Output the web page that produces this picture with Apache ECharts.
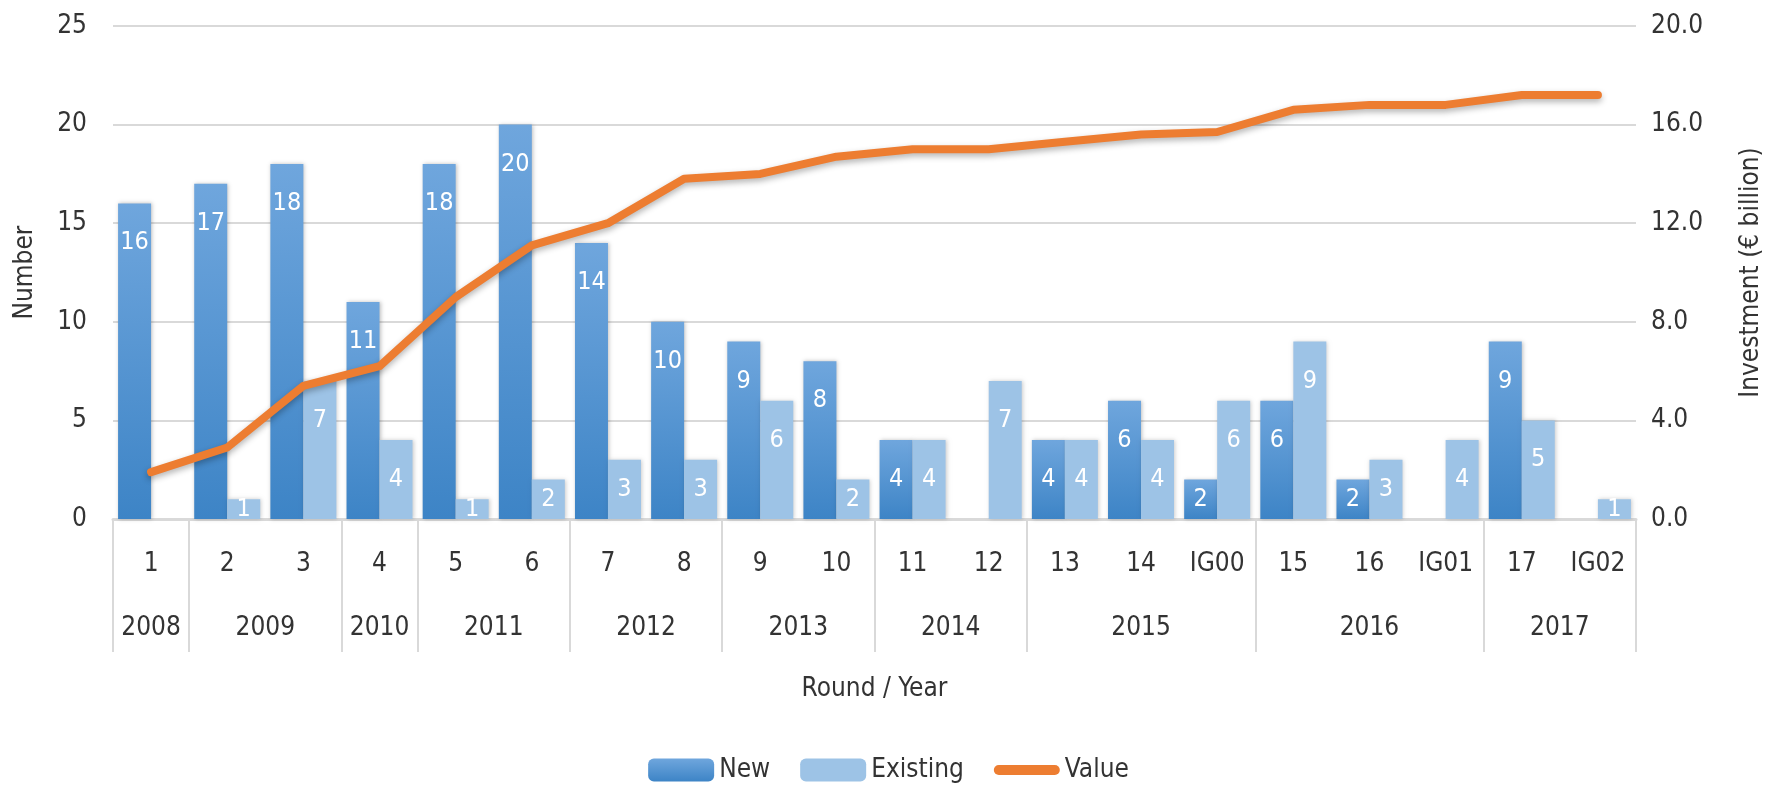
<!DOCTYPE html>
<html>
<head>
<meta charset="utf-8">
<title>Round / Year</title>
<script src="https://cdn.jsdelivr.net/npm/echarts@6/dist/echarts.min.js"></script>
<style>
  html, body { margin: 0; padding: 0; background: #fff; }
  #chart { width: 1777px; height: 792px; }
</style>
</head>
<body>
<div id="chart"></div>
<script>
// rounds on the first axis level
const rounds = ['1', '2', '3', '4', '5', '6', '7', '8', '9', '10',
  '11', '12', '13', '14', 'IG00', '15', '16', 'IG01', '17', 'IG02']
// years on the second level and how many rounds each one covers
const years = ['2008', '2009', '2010', '2011', '2012', '2013', '2014', '2015', '2016', '2017']
const yearSpans = [1, 2, 1, 2, 2, 2, 2, 3, 3, 2]

const newCounts = [16, 17, 18, 11, 18, 20, 14, 10, 9, 8, 4, null, 4, 6, 2, 6, 2, null, 9, null]
const existingCounts = [null, 1, 7, 4, 1, 2, 3, 3, 6, 2, 4, 7, 4, 4, 6, 9, 3, 4, 5, 1]
// investment, € billion (right axis)
const investment = [1.9, 2.9, 5.4, 6.2, 9.0, 11.1, 12.0, 13.8, 14.0, 14.7,
  15.0, 15.0, 15.3, 15.6, 15.7, 16.6, 16.8, 16.8, 17.2, 17.2]

const FONT = "'DejaVu Sans Condensed', 'Liberation Sans Narrow', sans-serif"
const TEXT = '#333'
const GRID_LINE = '#d9d9d9'
// thick rounded stroke for the line series in the legend
const LINE_ICON = 'path://M5,0 H61 A5,5 0 0 1 61,10 H5 A5,5 0 0 1 5,0 Z'

// year axis uses half-round slots: slot k sits at k/2 rounds from the left edge
const slotCount = rounds.length * 2 + 1
const slotLabels = new Array(slotCount).fill('')
const boundarySlots = new Set([0])
let start = 0
years.forEach((y, i) => {
  slotLabels[start * 2 + yearSpans[i]] = y
  start += yearSpans[i]
  boundarySlots.add(start * 2)
})
const slotIds = slotLabels.map((_, i) => String(i))

function barData(values) {
  return values.map(v => v == null ? null : {
    value: v,
    label: v >= 4 ? { position: 'insideTop', distance: 27 } : { position: 'inside' }
  })
}

const chart = echarts.init(document.getElementById('chart'))

chart.setOption({
  animation: false,
  textStyle: { fontFamily: FONT },
  grid: { left: 113, right: 141, top: 26, bottom: 273 },
  legend: {
    bottom: 4,
    left: 'center',
    itemWidth: 66,
    itemHeight: 23,
    itemGap: 30,
    textStyle: { fontSize: 26, color: TEXT, fontFamily: FONT },
    data: ['New', 'Existing', { name: 'Value', icon: LINE_ICON }]
  },
  xAxis: [
    {
      type: 'category',
      data: rounds,
      position: 'bottom',
      axisLine: { show: false },
      axisTick: { show: false },
      axisLabel: { color: TEXT, fontSize: 26, margin: 32, interval: 0, fontFamily: FONT }
    },
    {
      type: 'category',
      data: slotIds,
      boundaryGap: false,
      min: 0,
      max: slotCount - 1,
      position: 'bottom',
      name: 'Round / Year',
      nameLocation: 'middle',
      nameGap: 157,
      nameTextStyle: { color: TEXT, fontSize: 26, fontFamily: FONT },
      axisLine: { show: true, lineStyle: { color: GRID_LINE, width: 3 } },
      axisTick: {
        show: true,
        interval: (i) => boundarySlots.has(i),
        length: 133,
        lineStyle: { color: GRID_LINE, width: 2 }
      },
      axisLabel: {
        color: TEXT, fontSize: 26, margin: 96, interval: 0, fontFamily: FONT,
        formatter: (v, i) => slotLabels[i]
      },
      splitLine: { show: false }
    }
  ],
  yAxis: [
    {
      type: 'value',
      min: 0, max: 25, interval: 5,
      name: 'Number',
      nameLocation: 'middle',
      nameGap: 75,
      nameRotate: 90,
      nameTextStyle: { color: TEXT, fontSize: 26, fontFamily: FONT },
      axisLine: { show: false },
      axisTick: { show: false },
      axisLabel: { color: TEXT, fontSize: 26, margin: 26, fontFamily: FONT },
      splitLine: { lineStyle: { color: GRID_LINE, width: 2 } }
    },
    {
      type: 'value',
      min: 0, max: 20, interval: 4,
      position: 'right',
      name: 'Investment (€ billion)',
      nameLocation: 'middle',
      nameGap: 102,
      nameRotate: 90,
      nameTextStyle: { color: TEXT, fontSize: 26, fontFamily: FONT },
      axisLine: { show: false },
      axisTick: { show: false },
      axisLabel: { color: TEXT, fontSize: 26, margin: 15, fontFamily: FONT, formatter: v => v.toFixed(1) },
      splitLine: { show: false }
    }
  ],
  series: [
    {
      name: 'New',
      type: 'bar',
      xAxisIndex: 0,
      yAxisIndex: 0,
      data: barData(newCounts),
      barWidth: 33,
      barGap: '0%',
      itemStyle: {
        color: new echarts.graphic.LinearGradient(0, 0, 0, 1, [
          { offset: 0, color: '#6fa6dd' },
          { offset: 1, color: '#3d84c6' }
        ]),
        shadowColor: 'rgba(0,0,0,0.25)',
        shadowBlur: 4,
        shadowOffsetX: 1
      },
      label: { show: true, color: '#fff', fontSize: 25, fontFamily: FONT }
    },
    {
      name: 'Existing',
      type: 'bar',
      xAxisIndex: 0,
      yAxisIndex: 0,
      data: barData(existingCounts),
      barWidth: 33,
      barGap: '0%',
      itemStyle: {
        color: '#9dc3e6',
        shadowColor: 'rgba(0,0,0,0.2)',
        shadowBlur: 4,
        shadowOffsetX: 1
      },
      label: { show: true, color: '#fff', fontSize: 25, fontFamily: FONT }
    },
    {
      name: 'Value',
      type: 'line',
      xAxisIndex: 0,
      yAxisIndex: 1,
      data: investment,
      showSymbol: false,
      symbol: 'none',
      z: 5,
      lineStyle: {
        color: '#ed7d31',
        width: 8,
        cap: 'round',
        join: 'round',
        shadowColor: 'rgba(0,0,0,0.3)',
        shadowBlur: 6,
        shadowOffsetY: 3
      },
      itemStyle: { color: '#ed7d31' }
    }
  ]
})
</script>
</body>
</html>
